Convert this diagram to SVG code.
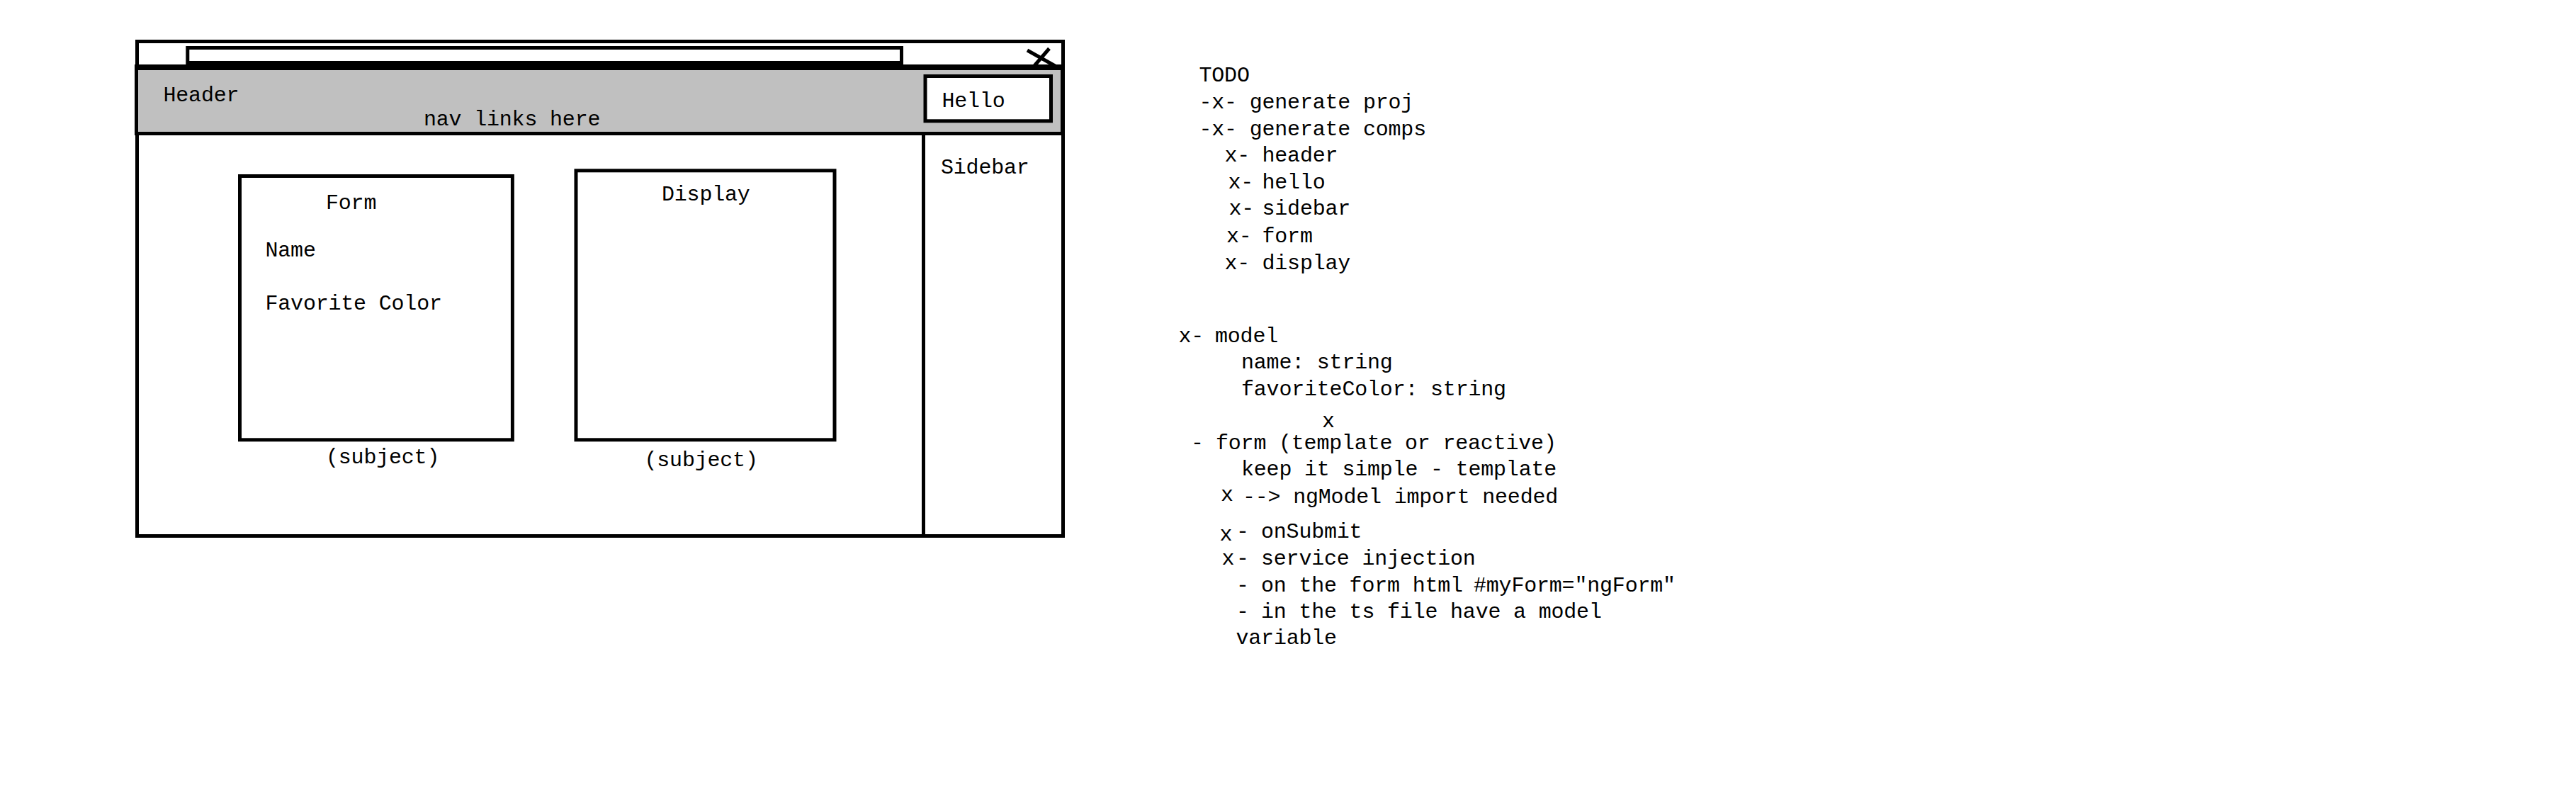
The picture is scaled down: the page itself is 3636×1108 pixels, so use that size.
<svg xmlns="http://www.w3.org/2000/svg" width="3636" height="1108" viewBox="0 0 3636 1108">
<style>
.t{font-family:"Liberation Mono","DejaVu Sans Mono",monospace;font-size:30px;fill:#000;letter-spacing:-0.2px}
.b{fill:none;stroke:#000;stroke-width:5}
.w{fill:#fff;stroke:#000;stroke-width:5}
</style>
<rect width="3636" height="1108" fill="#fff"/>
<g id="window">
<rect class="w" x="193.5" y="58.5" width="1307" height="698" stroke-width="6"/>
</g>
<g id="titlebar">
<rect class="w" x="264.8" y="67.5" width="1007.7" height="21"/>
<line x1="1450" y1="71" x2="1491" y2="94" stroke="#000" stroke-width="5"/>
<line x1="1481" y1="68.5" x2="1459" y2="94" stroke="#000" stroke-width="5"/>
</g>
<g id="header">
<rect x="192.5" y="95" width="1307" height="93.5" fill="#c0c0c0" stroke="#000" stroke-width="5"/>
<line x1="190" y1="95" x2="1502" y2="95" stroke="#000" stroke-width="8"/>
<text class="t" x="230.5" y="143.3">Header</text>
<text class="t" x="598" y="176.7">nav links here</text>
</g>
<g id="hello">
<rect class="w" x="1306" y="107.5" width="177.5" height="63.3"/>
<text class="t" x="1329.5" y="150.7">Hello</text>
</g>
<g id="sidebar">
<line x1="1303.5" y1="188" x2="1303.5" y2="756.5" stroke="#000" stroke-width="5"/>
<text class="t" x="1328" y="245">Sidebar</text>
</g>
<g id="form">
<rect class="b" x="338.5" y="248.5" width="384.9" height="372.3"/>
<text class="t" x="460" y="294.8">Form</text>
<text class="t" x="374.5" y="361.7">Name</text>
<text class="t" x="374.5" y="437">Favorite Color</text>
<text class="t" x="460" y="654.4">(subject)</text>
</g>
<g id="display">
<rect class="b" x="813" y="240.8" width="365" height="380"/>
<text class="t" x="934" y="283.3">Display</text>
<text class="t" x="909.5" y="658.3">(subject)</text>
</g>
<g id="todo">
<text class="t" x="1692.5" y="115">TODO</text>
<text class="t" x="1692.5" y="152.7">-x- generate proj</text>
<text class="t" x="1692.5" y="190.7">-x- generate comps</text>
<text class="t" y="228.3"><tspan x="1728.5">x-</tspan><tspan x="1781.5">header</tspan></text>
<text class="t" y="265.7"><tspan x="1733.5">x-</tspan><tspan x="1781.5">hello</tspan></text>
<text class="t" y="303.3"><tspan x="1734.5">x-</tspan><tspan x="1781.5">sidebar</tspan></text>
<text class="t" y="341.7"><tspan x="1731">x-</tspan><tspan x="1781.5">form</tspan></text>
<text class="t" y="380"><tspan x="1728.5">x-</tspan><tspan x="1781.5">display</tspan></text>
</g>
<g id="notes">
<text class="t" y="483"><tspan x="1663.5">x-</tspan><tspan x="1715">model</tspan></text>
<text class="t" x="1752" y="520.2">name: string</text>
<text class="t" x="1752" y="557.6">favoriteColor: string</text>
<text class="t" x="1866" y="603">x</text>
<text class="t" y="634"><tspan x="1681">-</tspan><tspan x="1716">form (template or reactive)</tspan></text>
<text class="t" x="1752" y="671.4">keep it simple - template</text>
<text class="t" x="1723" y="707">x</text>
<text class="t" x="1754" y="710">--&gt; ngModel import needed</text>
<text class="t" x="1721.5" y="763">x</text>
<text class="t" y="759"><tspan x="1745">-</tspan><tspan x="1780">onSubmit</tspan></text>
<text class="t" y="796.5"><tspan x="1724.5">x</tspan><tspan x="1745">-</tspan><tspan x="1780">service injection</tspan></text>
<text class="t" y="834.6"><tspan x="1745">-</tspan><tspan x="1780">on the form html</tspan><tspan x="2080">#myForm="ngForm"</tspan></text>
<text class="t" y="871.7"><tspan x="1745">-</tspan><tspan x="1780">in the ts file have a model</tspan></text>
<text class="t" x="1744.5" y="909.2">variable</text>
</g>
<g id="connectors"/>
</svg>
